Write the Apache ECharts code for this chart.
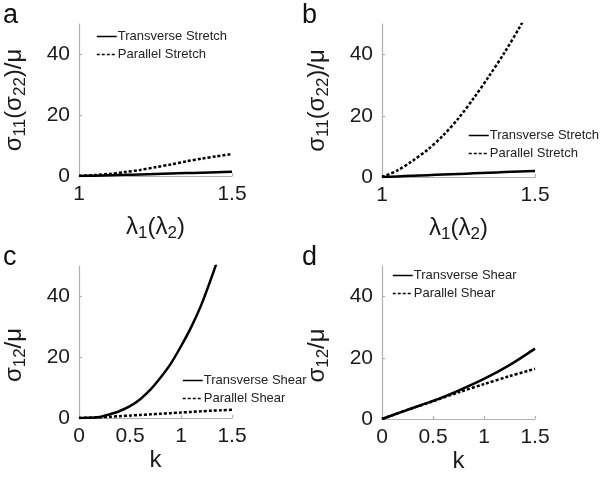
<!DOCTYPE html>
<html>
<head>
<meta charset="utf-8">
<script src="https://cdn.jsdelivr.net/npm/echarts@6/dist/echarts.min.js"></script>
<style>html,body{margin:0;padding:0;background:#fff}#c{width:600px;height:478px}</style>
</head>
<body>
<div id="c"></div>
<script>
// Panel a
const aX = [1, 1.05, 1.1, 1.15, 1.2, 1.25, 1.3, 1.35, 1.4, 1.45, 1.5];
const aTrans = [0, 0.12, 0.25, 0.38, 0.52, 0.66, 0.8, 0.95, 1.1, 1.25, 1.4];
const aPar = [0, 0.3, 0.7, 1.3, 2.0, 2.9, 3.8, 4.8, 5.7, 6.5, 7.2];
// Panel b
const bX = [1, 1.05, 1.1, 1.15, 1.2, 1.25, 1.3, 1.35, 1.4, 1.45, 1.5];
const bTrans = [0, 0.2, 0.4, 0.6, 0.8, 1.0, 1.2, 1.4, 1.6, 1.8, 2.0];
const bPar = [0, 2.1, 5.3, 9.0, 13.6, 19.2, 25.8, 33.0, 40.6, 49.0, 58.0];
// Panel c
const cX = [0, 0.1, 0.2, 0.3, 0.4, 0.5, 0.6, 0.7, 0.8, 0.9, 1.0, 1.1, 1.2, 1.3, 1.4, 1.5];
const cTrans = [0, 0.05, 0.3, 1.2, 2.3, 3.9, 6.2, 9.3, 13.3, 17.9, 23.6, 29.9, 37.3, 46.3, 56, 66];
const cPar = [0, 0.1, 0.25, 0.4, 0.6, 0.8, 1.0, 1.2, 1.4, 1.6, 1.8, 2.0, 2.2, 2.4, 2.55, 2.7];
// Panel d
const dX = [0, 0.25, 0.5, 0.75, 1.0, 1.25, 1.5];
const dTrans = [0, 3.0, 5.9, 9.3, 13.1, 17.6, 23.0];
const dPar = [0, 3.0, 5.8, 8.7, 11.4, 14.0, 16.4];
// Ticks
const stretchTicks = [1, 1.5];
const shearTicks = [0, 0.5, 1, 1.5];
const yTicks = [0, 20, 40];
const panelLetters = ['a', 'b', 'c', 'd'];
const stretchNames = ['Transverse Stretch', 'Parallel Stretch'];
const shearNames = ['Transverse Shear', 'Parallel Shear'];

const FONT = 'Liberation Sans, Arial, sans-serif';
const pairs = (xs, ys) => xs.map((x, i) => [x, ys[i]]);

const grids = [
  {left: 79, top: 24, width: 153, height: 152},
  {left: 382, top: 24, width: 153, height: 153},
  {left: 79, top: 266, width: 153, height: 152},
  {left: 382, top: 266, width: 153, height: 153}
];

const axisLineStyle = {color: '#b0b0b0', width: 1.2};
const labelStyle = {fontFamily: FONT, fontSize: 21, color: '#1a1a1a'};
const rich = {
  s: {fontFamily: FONT, fontSize: 24, color: '#1a1a1a', lineHeight: 30, verticalAlign: 'middle'},
  sub: {fontFamily: FONT, fontSize: 17, color: '#1a1a1a', lineHeight: 30, verticalAlign: 'bottom', padding: [10, 0, 0, 0]}
};

function xAxis(i, min, max, ticks, name, gap) {
  return {
    type: 'value', gridIndex: i, min: min, max: max,
    name: name, nameLocation: 'middle', nameGap: gap,
    nameTextStyle: {rich: rich},
    axisLine: {lineStyle: axisLineStyle},
    axisTick: {inside: true, length: 3, lineStyle: axisLineStyle, customValues: ticks},
    axisLabel: Object.assign({margin: 8, customValues: ticks}, labelStyle),
    splitLine: {show: false}
  };
}
function yAxis(i, name, gap, shift) {
  return {
    type: 'value', gridIndex: i, min: 0, max: 50,
    name: name, nameLocation: 'middle', nameGap: gap, nameRotate: 90,
    nameTextStyle: {rich: rich, padding: [0, shift, 0, 0]},
    axisLine: {show: true, lineStyle: axisLineStyle},
    axisTick: {show: true, inside: true, length: 3, lineStyle: axisLineStyle, customValues: yTicks},
    axisLabel: Object.assign({margin: 9, customValues: yTicks}, labelStyle),
    splitLine: {show: false}
  };
}

const yStretchName = '{s|σ}{sub|11}{s|(σ}{sub|22}{s|)/μ}';
const yShearName = '{s|σ}{sub|12}{s|/μ}';
const xStretchName = '{s|λ}{sub|1}{s|(λ}{sub|2}{s|)}';
const xShearName = '{s|k}';

function line(name, i, data, dashed) {
  return {
    type: 'line', name: name, xAxisIndex: i, yAxisIndex: i,
    data: data, showSymbol: false, symbol: 'none', smooth: 0.3, clip: true,
    lineStyle: {color: '#000', width: 2.5, type: dashed ? [3, 2] : 'solid'},
    itemStyle: {color: '#000'}
  };
}

function legend(names, left, top) {
  return {
    data: names, orient: 'vertical', left: left, top: top,
    itemWidth: 20, itemHeight: 12, itemGap: 5, padding: 0,
    itemStyle: {opacity: 0},
    lineStyle: {width: 1.5},
    textStyle: {fontFamily: FONT, fontSize: 13, color: '#222', padding: [0, 0, 0, -4]},
    selectedMode: false
  };
}

const option = {
  animation: false,
  backgroundColor: '#fff',
  title: panelLetters.map((t, i) => ({
    text: t, left: [3, 302, 3, 302][i], top: [2, 2, 244, 244][i],
    padding: 0,
    textStyle: {fontFamily: FONT, fontSize: 27, fontWeight: 'normal', color: '#111'}
  })),
  grid: grids,
  xAxis: [
    xAxis(0, 1, 1.5, stretchTicks, xStretchName, 36),
    xAxis(1, 1, 1.5, stretchTicks, xStretchName, 36),
    xAxis(2, 0, 1.5, shearTicks, xShearName, 27),
    xAxis(3, 0, 1.5, shearTicks, xShearName, 27)
  ],
  yAxis: [
    yAxis(0, yStretchName, 50, 0),
    yAxis(1, yStretchName, 50, 0),
    yAxis(2, yShearName, 50, 26),
    yAxis(3, yShearName, 50, 26)
  ],
  legend: [
    legend(stretchNames, 96, 30),
    legend(stretchNames, 468, 129),
    legend(shearNames, 182, 374),
    legend(shearNames, 392, 269)
  ],
  series: [
    line(stretchNames[0], 0, pairs(aX, aTrans), false),
    line(stretchNames[1], 0, pairs(aX, aPar), true),
    line(stretchNames[0], 1, pairs(bX, bTrans), false),
    line(stretchNames[1], 1, pairs(bX, bPar), true),
    line(shearNames[0], 2, pairs(cX, cTrans), false),
    line(shearNames[1], 2, pairs(cX, cPar), true),
    line(shearNames[0], 3, pairs(dX, dTrans), false),
    line(shearNames[1], 3, pairs(dX, dPar), true)
  ]
};

const chart = echarts.init(document.getElementById('c'), null, {renderer: 'canvas'});
chart.setOption(option);
</script>
</body>
</html>
